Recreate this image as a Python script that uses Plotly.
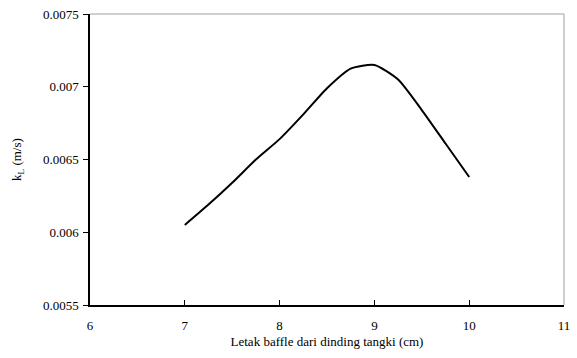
import plotly.graph_objects as go

# Baffle position from tank wall (cm) and mass-transfer coefficient kL (m/s)
baffle_pos = [7.0, 7.25, 7.5, 7.75, 8.0, 8.25, 8.5, 8.75, 9.0, 9.25, 9.5, 9.75, 10.0]
kl_values = [0.00605, 0.00619, 0.00634, 0.00650, 0.00664, 0.00681, 0.00699,
             0.007125, 0.00715, 0.00705, 0.00684, 0.00661, 0.00638]

x_ticks = [6, 7, 8, 9, 10, 11]
y_ticks = [0.0055, 0.006, 0.0065, 0.007, 0.0075]
y_tick_text = ["0.0055", "0.006", "0.0065", "0.007", "0.0075"]

font_family = "Liberation Serif, Times New Roman, serif"

fig = go.Figure()
fig.add_trace(go.Scatter(
    x=baffle_pos, y=kl_values, mode="lines",
    line=dict(color="black", width=2, shape="spline", smoothing=0.6),
    showlegend=False, hoverinfo="skip",
))

# Grey frame on top and right sides
fig.add_shape(type="line", xref="paper", yref="paper", x0=0, x1=1, y0=1, y1=1,
              line=dict(color="#a0a0a0", width=1))
fig.add_shape(type="line", xref="paper", yref="paper", x0=1, x1=1, y0=0, y1=1,
              line=dict(color="#a0a0a0", width=1))

fig.update_layout(
    width=577, height=358,
    margin=dict(l=90, r=7, t=13, b=53),
    paper_bgcolor="white", plot_bgcolor="white",
    font=dict(family=font_family, size=13, color="black"),
    xaxis=dict(
        range=[6, 11], tickvals=x_ticks, ticks="inside", ticklen=5,
        tickcolor="black", showline=True, linecolor="black", linewidth=1.5,
        showgrid=False, zeroline=False, ticklabelstandoff=8,
        title=dict(text="Letak baffle dari dinding tangki (cm)",
                   font=dict(size=13), standoff=5),
        tickfont=dict(size=13),
    ),
    yaxis=dict(
        range=[0.0055, 0.0075], tickvals=y_ticks, ticktext=y_tick_text,
        ticks="outside", ticklen=5, tickcolor="black",
        showline=True, linecolor="black", linewidth=1.5,
        showgrid=False, zeroline=False, ticklabelstandoff=2,
        title=dict(text="k<sub>L</sub> (m/s)", font=dict(size=13), standoff=18),
        tickfont=dict(size=13),
    ),
)

fig.write_html("out.html")
